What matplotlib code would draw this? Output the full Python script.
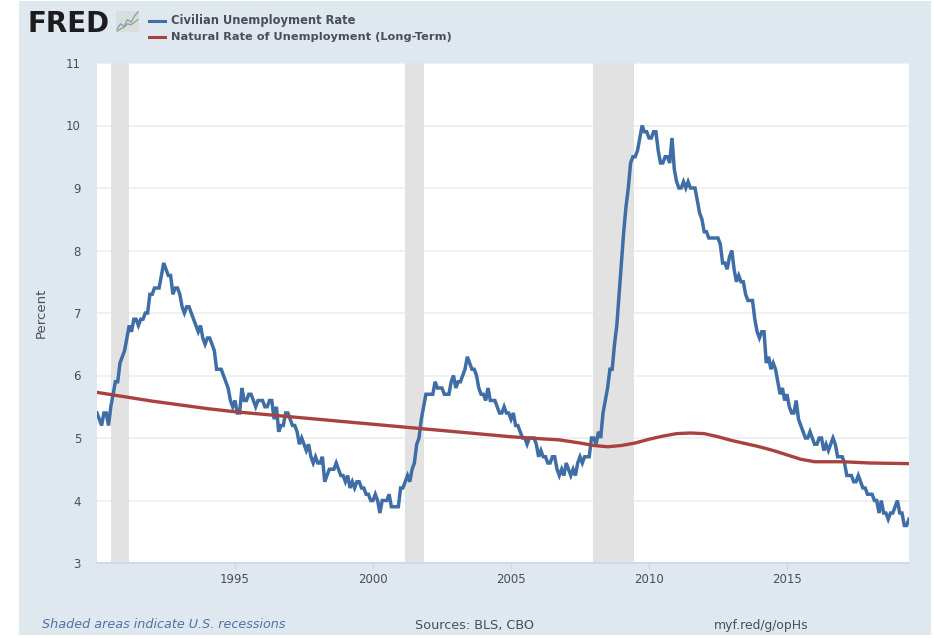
import numpy as np
from matplotlib import pyplot as plt
from matplotlib.patches import Rectangle

W, H = 934, 638

# monthly, Jan 1990 - Jun 2019
unrate = [
    5.4, 5.3, 5.2, 5.4, 5.4, 5.2, 5.5, 5.7, 5.9, 5.9, 6.2, 6.3,
    6.4, 6.6, 6.8, 6.7, 6.9, 6.9, 6.8, 6.9, 6.9, 7.0, 7.0, 7.3,
    7.3, 7.4, 7.4, 7.4, 7.6, 7.8, 7.7, 7.6, 7.6, 7.3, 7.4, 7.4,
    7.3, 7.1, 7.0, 7.1, 7.1, 7.0, 6.9, 6.8, 6.7, 6.8, 6.6, 6.5,
    6.6, 6.6, 6.5, 6.4, 6.1, 6.1, 6.1, 6.0, 5.9, 5.8, 5.6, 5.5,
    5.6, 5.4, 5.4, 5.8, 5.6, 5.6, 5.7, 5.7, 5.6, 5.5, 5.6, 5.6,
    5.6, 5.5, 5.5, 5.6, 5.6, 5.3, 5.5, 5.1, 5.2, 5.2, 5.4, 5.4,
    5.3, 5.2, 5.2, 5.1, 4.9, 5.0, 4.9, 4.8, 4.9, 4.7, 4.6, 4.7,
    4.6, 4.6, 4.7, 4.3, 4.4, 4.5, 4.5, 4.5, 4.6, 4.5, 4.4, 4.4,
    4.3, 4.4, 4.2, 4.3, 4.2, 4.3, 4.3, 4.2, 4.2, 4.1, 4.1, 4.0,
    4.0, 4.1, 4.0, 3.8, 4.0, 4.0, 4.0, 4.1, 3.9, 3.9, 3.9, 3.9,
    4.2, 4.2, 4.3, 4.4, 4.3, 4.5, 4.6, 4.9, 5.0, 5.3, 5.5, 5.7,
    5.7, 5.7, 5.7, 5.9, 5.8, 5.8, 5.8, 5.7, 5.7, 5.7, 5.9, 6.0,
    5.8, 5.9, 5.9, 6.0, 6.1, 6.3, 6.2, 6.1, 6.1, 6.0, 5.8, 5.7,
    5.7, 5.6, 5.8, 5.6, 5.6, 5.6, 5.5, 5.4, 5.4, 5.5, 5.4, 5.4,
    5.3, 5.4, 5.2, 5.2, 5.1, 5.0, 5.0, 4.9, 5.0, 5.0, 5.0, 4.9,
    4.7, 4.8, 4.7, 4.7, 4.6, 4.6, 4.7, 4.7, 4.5, 4.4, 4.5, 4.4,
    4.6, 4.5, 4.4, 4.5, 4.4, 4.6, 4.7, 4.6, 4.7, 4.7, 4.7, 5.0,
    5.0, 4.9, 5.1, 5.0, 5.4, 5.6, 5.8, 6.1, 6.1, 6.5, 6.8, 7.3,
    7.8, 8.3, 8.7, 9.0, 9.4, 9.5, 9.5, 9.6, 9.8, 10.0, 9.9, 9.9,
    9.8, 9.8, 9.9, 9.9, 9.6, 9.4, 9.4, 9.5, 9.5, 9.4, 9.8, 9.3,
    9.1, 9.0, 9.0, 9.1, 9.0, 9.1, 9.0, 9.0, 9.0, 8.8, 8.6, 8.5,
    8.3, 8.3, 8.2, 8.2, 8.2, 8.2, 8.2, 8.1, 7.8, 7.8, 7.7, 7.9,
    8.0, 7.7, 7.5, 7.6, 7.5, 7.5, 7.3, 7.2, 7.2, 7.2, 6.9, 6.7,
    6.6, 6.7, 6.7, 6.2, 6.3, 6.1, 6.2, 6.1, 5.9, 5.7, 5.8, 5.6,
    5.7, 5.5, 5.4, 5.4, 5.6, 5.3, 5.2, 5.1, 5.0, 5.0, 5.1, 5.0,
    4.9, 4.9, 5.0, 5.0, 4.8, 4.9, 4.8, 4.9, 5.0, 4.9, 4.7, 4.7,
    4.7, 4.6, 4.4, 4.4, 4.4, 4.3, 4.3, 4.4, 4.3, 4.2, 4.2, 4.1,
    4.1, 4.1, 4.0, 4.0, 3.8, 4.0, 3.8, 3.8, 3.7, 3.8, 3.8, 3.9,
    4.0, 3.8, 3.8, 3.6, 3.6, 3.7,
]
nat_years = [1990.0, 1991.0, 1992.0, 1993.0, 1994.0, 1995.0, 1996.0, 1997.0, 1998.0, 1999.0,
             2000.0, 2001.0, 2002.0, 2003.0, 2004.0, 2005.0, 2006.0, 2006.75, 2007.5, 2008.0,
             2008.5, 2009.0, 2009.5, 2010.0, 2010.5, 2011.0, 2011.5, 2012.0, 2012.5, 2013.0,
             2013.5, 2014.0, 2014.5, 2015.0, 2015.5, 2016.0, 2016.5, 2017.0, 2018.0, 2019.42]
nat_rate = [5.73, 5.66, 5.59, 5.53, 5.47, 5.42, 5.38, 5.34, 5.30, 5.26,
            5.22, 5.18, 5.14, 5.10, 5.06, 5.02, 4.99, 4.97, 4.92, 4.88,
            4.86, 4.88, 4.92, 4.98, 5.03, 5.07, 5.08, 5.07, 5.02, 4.96,
            4.91, 4.86, 4.80, 4.73, 4.66, 4.62, 4.62, 4.62, 4.60, 4.59]
recessions = [(1990.5, 1991.17), (2001.17, 2001.85), (2007.97, 2009.45)]
y_ticks = [3, 4, 5, 6, 7, 8, 9, 10, 11]
x_ticks = [1995, 2000, 2005, 2010, 2015]
logo_a = [0, 1, 2, 3, 4, 5, 6]
logo_b = [1, 2.2, 1.6, 3.2, 2.6, 4, 5]
logo_c = [0.5, 1, 1.4, 2.2, 2.0, 2.6, 3.2]

BLUE = '#3f6ea6'
RED = '#a8423f'
TEXT = '#4a4f55'
PANEL = '#dfe7ef'


def fx(px):
    return px / W


def fy(py):
    return 1 - py / H


fig = plt.figure(figsize=(W / 100, H / 100), dpi=100, facecolor='white')
fig.patches.append(Rectangle((fx(19), fy(635)), fx(931) - fx(19), fy(1) - fy(635),
                             transform=fig.transFigure, facecolor=PANEL, edgecolor='none', zorder=-1))

ax = fig.add_axes([fx(97), fy(563), fx(909) - fx(97), fy(63) - fy(563)])
ax.set_facecolor('white')
ax.set_xlim(1990.0, 2019.42)
ax.set_ylim(3, 11)

for start, end in recessions:
    ax.axvspan(start, end, color='#e2e2e2', lw=0, zorder=1)
ax.set_yticks(y_ticks)
ax.set_xticks(x_ticks)
ax.grid(axis='y', color='#eceef0', lw=1.2, zorder=0)
ax.set_axisbelow(True)

months = 1990 + np.arange(len(unrate)) / 12
ax.plot(months, unrate, color=BLUE, lw=2.5, solid_joinstyle='miter', zorder=3)
ax.plot(nat_years, nat_rate, color=RED, lw=2.4, zorder=4)

for side in ['top', 'left', 'right']:
    ax.spines[side].set_visible(False)
ax.spines['bottom'].set_color('#ccd6e6')
ax.spines['bottom'].set_linewidth(1.2)
ax.tick_params(axis='y', length=0, pad=11.5, labelsize=8.5, labelcolor=TEXT)
ax.tick_params(axis='x', length=4, width=1, color='#ccd6e6', pad=3, labelsize=8.5, labelcolor=TEXT)
ax.set_ylabel('Percent', fontsize=9.5, color=TEXT, labelpad=13.5)

# header
fig.text(fx(28), fy(32), 'FRED', fontsize=20, fontweight='bold', color='#1c1c1e',
         va='baseline', ha='left')
logo = fig.add_axes([fx(116), fy(32), fx(139) - fx(116), fy(11) - fy(32)])
logo.set_facecolor('#d9dedd')
logo.plot(logo_a, logo_b, color='#7f9cc0', lw=0.9)
logo.plot(logo_a, logo_c, color='#82a67a', lw=0.9)
logo.set_xticks([])
logo.set_yticks([])
for side in logo.spines:
    logo.spines[side].set_visible(False)

fig.add_artist(plt.Line2D([fx(149), fx(165)], [fy(20.5), fy(20.5)], color=BLUE, lw=2.2))
fig.add_artist(plt.Line2D([fx(149), fx(165)], [fy(37), fy(37)], color=RED, lw=2.2))
fig.text(fx(171), fy(20.5), 'Civilian Unemployment Rate', fontsize=8.3, fontweight='bold',
         color=TEXT, va='center')
fig.text(fx(171), fy(37), 'Natural Rate of Unemployment (Long-Term)', fontsize=8.2, fontweight='bold',
         color=TEXT, va='center')

# footer
fig.text(fx(42), fy(625), 'Shaded areas indicate U.S. recessions', fontsize=9.15, style='italic',
         color='#4f74a8', va='center')
fig.text(fx(415), fy(625), 'Sources: BLS, CBO', fontsize=9.15, color=TEXT, va='center')
fig.text(fx(714), fy(625), 'myf.red/g/opHs', fontsize=8.95, color=TEXT, va='center')

fig.savefig('out.png', dpi=100, facecolor='white')
